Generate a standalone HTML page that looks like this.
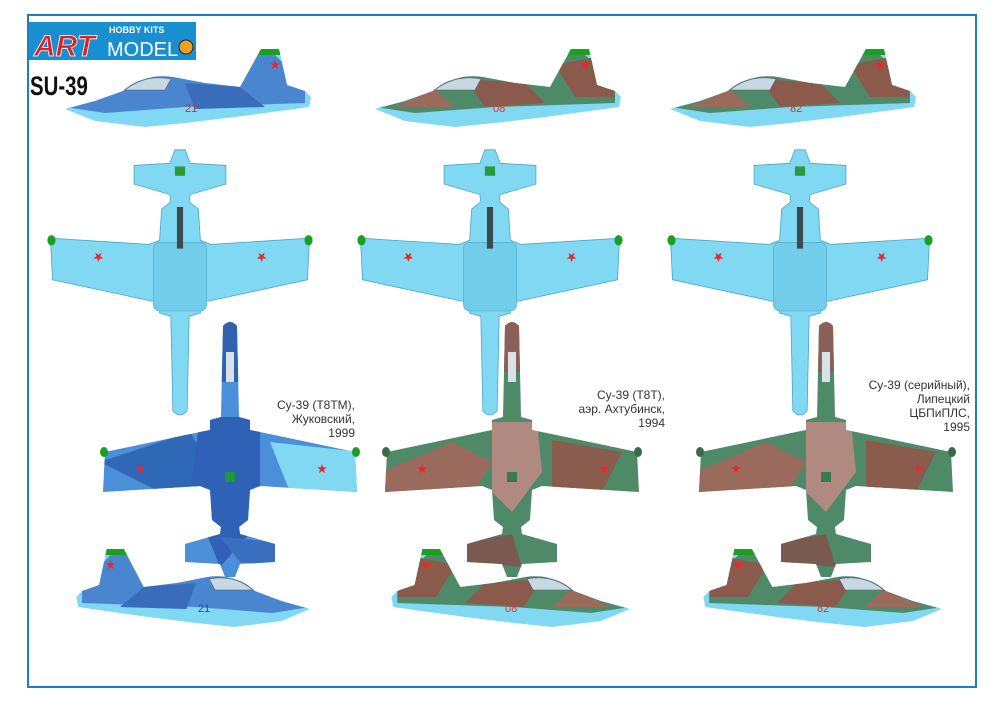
<!DOCTYPE html>
<html><head><meta charset="utf-8"><style>
html,body{margin:0;padding:0;background:#fff}
svg{display:block}
text{font-family:"Liberation Sans",sans-serif}
</style></head><body>
<svg width="1000" height="707" viewBox="0 0 1000 707" xmlns="http://www.w3.org/2000/svg">
<defs>
<path id="plan" d="M-7,4 Q0,-4 7,4 L9,95 L20,98 L20,108 L30,110 L125,130 L127,170 L30,164 L20,168 L18,198 L9,205 L10,212 L45,222 L45,240 L10,242 L5,255 L-5,255 L-10,242 L-45,240 L-45,222 L-10,212 L-9,205 L-18,198 L-20,168 L-30,164 L-127,170 L-125,130 L-30,110 L-20,108 L-20,98 L-9,95 Z"/>
<path id="side" d="M0,64 L30,56 L58,46 Q78,28 108,32 L140,38 L175,42 L196,4 L214,4 L222,40 L240,46 L246,52 L244,62 L215,66 L170,72 L120,78 L80,82 L30,76 Z"/>
<clipPath id="cp"><use href="#plan"/></clipPath>
<clipPath id="cs"><use href="#side"/></clipPath>
<polygon id="star" points="0,-5 1.2,-1.6 4.8,-1.6 1.9,0.6 3,4 0,2 -3,4 -1.9,0.6 -4.8,-1.6 -1.2,-1.6" fill="#e8282a"/>
<g id="under">
<use href="#plan" fill="#80d8f2" stroke="#4aa8c8" stroke-width="0.8"/>
<rect x="-26" y="100" width="52" height="66" rx="6" fill="#72cdea" stroke="#4aa8c8" stroke-width="0.6"/>
<rect x="-3" y="160" width="6" height="40" fill="#3a4a50"/>
<rect x="-5" y="230" width="10" height="9" fill="#2a9a3a"/>
<ellipse cx="-126" cy="168" rx="4" ry="5" fill="#1aa020"/>
<ellipse cx="126" cy="168" rx="4" ry="5" fill="#1aa020"/>
<use href="#star" x="-80" y="152"/><use href="#star" x="80" y="152"/>
</g>
<g id="camoB">
<use href="#plan" fill="#4a8fd8"/>
<g clip-path="url(#cp)">
<path d="M-130,140 L-40,110 L-10,160 L-60,175 Z" fill="#3068b8"/>
<path d="M-30,95 L30,95 L30,200 L-10,245 L-40,170 Z" fill="#2f62b6"/>
<path d="M40,120 L130,130 L130,175 L60,170 Z" fill="#80d8f2"/>
<path d="M-7,0 L7,0 L9,60 L-9,60 Z" fill="#3062b0"/>
<path d="M-10,215 L45,220 L45,245 L10,240 Z" fill="#3a6fc0"/>
</g>
<rect x="-4" y="30" width="8" height="30" fill="#d8e2e8"/>
<rect x="-5" y="150" width="10" height="10" fill="#1f9a3a"/>
<ellipse cx="126" cy="130" rx="4" ry="5" fill="#1aa020"/><ellipse cx="-126" cy="130" rx="4" ry="5" fill="#1aa020"/>
<use href="#star" x="-90" y="147"/><use href="#star" x="92" y="147"/>
</g>
<g id="camoG">
<use href="#plan" fill="#4f8a68"/>
<g clip-path="url(#cp)">
<path d="M-130,150 L-60,120 L-20,140 L-40,172 L-130,172 Z" fill="#9a6a5c"/>
<path d="M-20,100 L25,100 L30,150 L0,190 L-20,170 Z" fill="#b08a80"/>
<path d="M40,118 L110,130 L90,170 L40,165 Z" fill="#8a5c4e"/>
<path d="M-8,0 L8,0 L9,50 L-9,50 Z" fill="#8a6058"/>
<path d="M-45,220 L0,212 L10,245 L-45,240 Z" fill="#7a5a50"/>
</g>
<rect x="-4" y="30" width="8" height="30" fill="#d8e2e8"/>
<rect x="-5" y="150" width="10" height="10" fill="#3a7a52"/>
<ellipse cx="126" cy="130" rx="4" ry="5" fill="#3a6a4a"/><ellipse cx="-126" cy="130" rx="4" ry="5" fill="#3a6a4a"/>
<use href="#star" x="-90" y="147"/><use href="#star" x="92" y="147"/>
</g>
<g id="sideB">
<use href="#side" fill="#80d8f2"/>
<g clip-path="url(#cs)">
<path d="M0,62 L60,40 L200,0 L240,40 L240,58 L120,62 L40,68 Z" fill="#4a86d0"/>
<path d="M120,38 L175,42 L200,62 L130,64 Z" fill="#3a6cbc"/>
<rect x="190" y="0" width="30" height="10" fill="#1aa020"/>
</g>
<path d="M60,45 Q80,29 106,34 L100,45 Z" fill="#c8d8e0" stroke="#557" stroke-width="0.6"/>
<use href="#star" x="210" y="20"/>
</g>
<g id="sideG">
<use href="#side" fill="#80d8f2"/>
<g clip-path="url(#cs)">
<path d="M0,62 L60,40 L200,0 L240,40 L240,58 L120,62 L40,68 Z" fill="#4f8a68"/>
<path d="M90,34 L150,38 L170,58 L110,62 Z" fill="#8a5a4c"/>
<path d="M180,20 L230,10 L240,52 L200,52 Z" fill="#8a5a4c"/>
<path d="M20,62 L60,44 L80,62 Z" fill="#9a6a5c"/>
<rect x="190" y="0" width="30" height="10" fill="#1aa020"/>
</g>
<path d="M60,45 Q80,29 106,34 L100,45 Z" fill="#c8d8e0" stroke="#557" stroke-width="0.6"/>
<use href="#star" x="210" y="20"/>
</g>
</defs>

<rect x="28" y="15" width="948" height="672" fill="none" stroke="#1a7fc8" stroke-width="2"/>

<!-- logo -->
<rect x="29" y="22" width="167" height="38" fill="#1a8fd0"/>
<text x="34" y="56" font-size="30" font-weight="bold" font-style="italic" fill="#e02020" stroke="#fff" stroke-width="0.8">ART</text>
<text x="109" y="33" font-size="9" font-weight="bold" fill="#fff">HOBBY KITS</text>
<text x="107" y="56" font-size="20" fill="#fff">MODEL</text>
<circle cx="186" cy="47" r="7" fill="#f0a020" stroke="#222" stroke-width="1"/>
<text x="30" y="95" font-size="24" font-weight="bold" fill="#111" transform="translate(30,95) scale(0.85,1.1) translate(-30,-95)">SU-39</text>

<!-- top side views -->
<g transform="translate(65,45)"><use href="#sideB"/></g>
<text x="185" y="112" font-size="11" fill="#d03030">21</text>
<g transform="translate(375,45)"><use href="#sideG"/></g>
<text x="493" y="112" font-size="11" fill="#e03030">08</text>
<g transform="translate(670,45)"><use href="#sideG"/></g>
<text x="790" y="112" font-size="11" fill="#e03030">82</text>

<!-- underside plans (nose down) -->
<g transform="translate(180,415) scale(1.02,-1.04)"><use href="#under"/></g>
<g transform="translate(490,415) scale(1.02,-1.04)"><use href="#under"/></g>
<g transform="translate(800,415) scale(1.02,-1.04)"><use href="#under"/></g>

<!-- camo top views -->
<g transform="translate(230,322)"><use href="#camoB"/></g>
<g transform="translate(512,322)"><use href="#camoG"/></g>
<g transform="translate(826,322)"><use href="#camoG"/></g>

<!-- bottom side views (mirrored) -->
<g transform="translate(310,545) scale(-0.95,1)"><use href="#sideB"/></g>
<text x="198" y="612" font-size="11" fill="#2050a0">21</text>
<g transform="translate(630,545) scale(-0.97,1)"><use href="#sideG"/></g>
<text x="505" y="612" font-size="11" fill="#e03030">08</text>
<g transform="translate(942,545) scale(-0.97,1)"><use href="#sideG"/></g>
<text x="817" y="612" font-size="11" fill="#e03030">82</text>

<!-- captions -->
<g font-size="12" fill="#333" text-anchor="end">
<text x="355" y="409">Су-39 (Т8ТМ),</text>
<text x="355" y="423">Жуковский,</text>
<text x="355" y="437">1999</text>
<text x="665" y="399">Су-39 (Т8Т),</text>
<text x="665" y="413">аэр. Ахтубинск,</text>
<text x="665" y="427">1994</text>
<text x="970" y="389">Су-39 (серийный),</text>
<text x="970" y="403">Липецкий</text>
<text x="970" y="417">ЦБПиПЛС,</text>
<text x="970" y="431">1995</text>
</g>
</svg>
</body></html>
